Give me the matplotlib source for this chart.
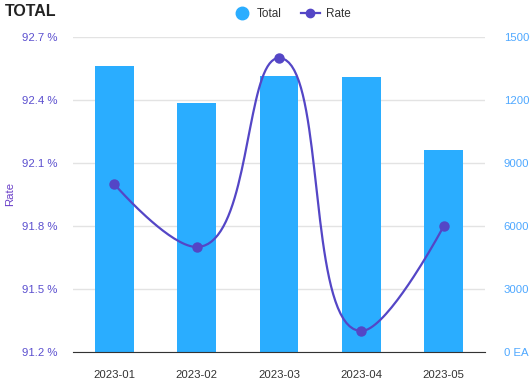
import numpy as np
import matplotlib
matplotlib.use("Agg")
import matplotlib.pyplot as plt
from matplotlib.lines import Line2D

plt.rcParams['font.family'] = ['Liberation Sans', 'DejaVu Sans']

months = ['2023-01', '2023-02', '2023-03', '2023-04', '2023-05']
total = [13600, 11860, 13140, 13100, 9620]
rate = [92.0, 91.7, 92.6, 91.3, 91.8]
rate_ticks = [91.2, 91.5, 91.8, 92.1, 92.4, 92.7]
total_ticks = [0, 3000, 6000, 9000, 12000, 15000]

BAR = '#2aadff'
LINE = '#5446c6'


def smooth_curve(px, py, smooth=0.5, steps=40):
    # echarts style bezier with clamped control points
    n = len(px)
    cps = []
    for i in range(n):
        x, y = px[i], py[i]
        if i == 0 or i == n - 1:
            cps.append(((x, y), (x, y)))
            continue
        x0, y0 = px[i - 1], py[i - 1]
        x1, y1 = px[i + 1], py[i + 1]
        vx, vy = x1 - x0, y1 - y0
        lp = np.hypot(x - x0, y - y0)
        ln = np.hypot(x1 - x, y1 - y)
        r = ln / (ln + lp)
        nx = x + vx * smooth * r
        ny = y + vy * smooth * r
        nx = min(max(nx, min(x1, x)), max(x1, x))
        ny = min(max(ny, min(y1, y)), max(y1, y))
        vx, vy = nx - x, ny - y
        cx = x - vx * lp / ln
        cy = y - vy * lp / ln
        cx = min(max(cx, min(x0, x)), max(x0, x))
        cy = min(max(cy, min(y0, y)), max(y0, y))
        vx, vy = x - cx, y - cy
        nx = x + vx * ln / lp
        ny = y + vy * ln / lp
        cps.append(((cx, cy), (nx, ny)))
    xs, ys = [], []
    t = np.linspace(0, 1, steps)
    for i in range(n - 1):
        p0 = np.array([px[i], py[i]])
        p1 = np.array(cps[i][1])
        p2 = np.array(cps[i + 1][0])
        p3 = np.array([px[i + 1], py[i + 1]])
        for tt in t:
            b = ((1 - tt) ** 3) * p0 + 3 * ((1 - tt) ** 2) * tt * p1 + 3 * (1 - tt) * tt ** 2 * p2 + tt ** 3 * p3
            xs.append(b[0])
            ys.append(b[1])
    return np.array(xs), np.array(ys)


fig = plt.figure(figsize=(5.3, 3.84), dpi=100)
ax = fig.add_axes([73 / 530, 1 - 352 / 384, 412 / 530, 315 / 384])
x = np.arange(len(months))

ax.bar(x, total, width=0.47, color=BAR, zorder=2)
ax.set_xlim(-0.5, len(months) - 0.5)
ax.set_ylim(0, 15000)
ax.set_xticks(x)
ax.set_xticklabels(months)
ax.tick_params(axis='x', length=0, pad=13, labelsize=8.2, labelcolor='#333333')
ax.grid(axis='y', color='#e3e3e3', linewidth=1)
ax.set_axisbelow(True)
for s in ['top', 'left', 'right']:
    ax.spines[s].set_visible(False)
ax.spines['bottom'].set_color('#333333')
ax.spines['bottom'].set_zorder(3)

ax2 = ax.twinx()
ax2.set_ylim(91.2, 92.7)
ax2.yaxis.tick_left()
ax2.set_yticks(rate_ticks)
ax2.set_yticklabels([f'{v:.1f} %' for v in rate_ticks])
ax2.tick_params(axis='y', length=0, pad=11, labelsize=8.2, labelcolor='#5b4fcf')
for s in ax2.spines.values():
    s.set_visible(False)

# bar axis labels on the right (after twinx, which resets them)
ax.yaxis.tick_right()
ax.set_yticks(total_ticks)
ax.set_yticklabels(['0 EA'] + [str(v) for v in total_ticks[1:]])
ax.tick_params(axis='y', length=0, pad=13.5, labelsize=8.2, labelcolor='#4ea8ff')

# smooth in pixel-like space
sx, sy = 83.0, 210.0
cx, cy = smooth_curve(x * sx, np.array(rate) * sy)
ax2.plot(cx / sx, cy / sy, color=LINE, linewidth=1.6, zorder=3)
ax2.plot(x, rate, 'o', color=LINE, markersize=6.5, zorder=4)

fig.text(10 / 530, 1 - 194 / 384, 'Rate', rotation=90, color='#6a3fc8', fontsize=8.2,
         ha='center', va='center')
fig.text(0.01, 0.99, 'TOTAL', fontsize=11.5, fontweight='bold', color='#222222', va='top', ha='left')

handles = [
    Line2D([], [], marker='o', color=BAR, linestyle='none', markersize=9),
    Line2D([], [], marker='o', color=LINE, linewidth=1.6, markersize=6),
]
fig.legend(handles, ['Total', 'Rate'], loc='center', bbox_to_anchor=(0.55, 0.963), ncol=2,
           frameon=False, fontsize=8.5, handlelength=1.6, columnspacing=1.6, handletextpad=0.5,
           labelcolor='#333333')

fig.savefig('out.png', dpi=100)
